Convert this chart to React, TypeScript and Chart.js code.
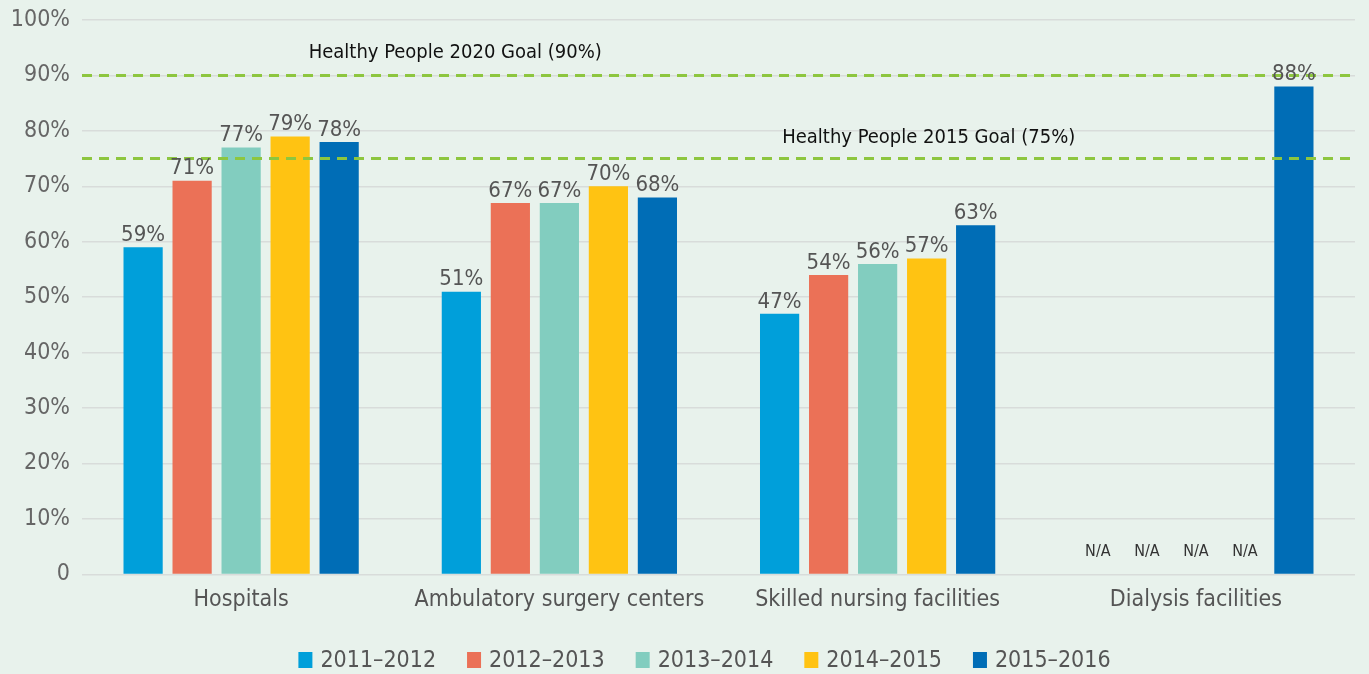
import React, { useEffect, useRef } from "react";
import { Chart, registerables } from "chart.js";

Chart.register(...registerables);

const categories = ["Hospitals", "Ambulatory surgery centers", "Skilled nursing facilities", "Dialysis facilities"];
const seriesNames = ["2011\u20132012", "2012\u20132013", "2013\u20132014", "2014\u20132015", "2015\u20132016"];
const s2011 = [59, 51, 47, null];
const s2012 = [71, 67, 54, null];
const s2013 = [77, 67, 56, null];
const s2014 = [79, 70, 57, null];
const s2015 = [78, 68, 63, 88];
const seriesColors = ["#009FDA", "#EB7157", "#82CDBF", "#FFC312", "#006DB6"];
const goalValues = [90, 75];
const goalLabels = ["Healthy People 2020 Goal (90%)", "Healthy People 2015 Goal (75%)"];
const yTicks = [0, 10, 20, 30, 40, 50, 60, 70, 80, 90, 100];

const FONT = "'DejaVu Sans Condensed', 'Liberation Sans Narrow', sans-serif";
const BG = "#E8F2EC";

const bgPlugin = {
  id: "bg",
  beforeDraw(chart: any) {
    const { ctx, width, height } = chart;
    ctx.save();
    ctx.fillStyle = BG;
    ctx.fillRect(0, 0, width, height);
    ctx.restore();
  },
};

const goalPlugin = {
  id: "goals",
  afterDatasetsDraw(chart: any) {
    const { ctx, chartArea, scales } = chart;
    const y = scales.y;
    const xs = scales.x;
    ctx.save();
    goalValues.forEach((g) => {
      const py = y.getPixelForValue(g);
      ctx.strokeStyle = "#8DC63F";
      ctx.lineWidth = 3;
      ctx.setLineDash([10, 7]);
      ctx.beginPath();
      ctx.moveTo(chartArea.left, py);
      ctx.lineTo(chartArea.right, py);
      ctx.stroke();
    });
    ctx.setLineDash([]);
    ctx.fillStyle = "#111";
    ctx.font = `20px ${FONT}`;
    ctx.textAlign = "center";
    ctx.textBaseline = "middle";
    const p0 = xs.getPixelForValue(0);
    const p1 = xs.getPixelForValue(1);
    const p2 = xs.getPixelForValue(2);
    const p3 = xs.getPixelForValue(3);
    ctx.fillText(goalLabels[0], (p0 + p1) / 2 + 55, y.getPixelForValue(goalValues[0] + 4));
    ctx.fillText(goalLabels[1], (p2 + p3) / 2 - 108, y.getPixelForValue(goalValues[1] + 3.7));
    ctx.restore();
  },
};

const labelPlugin = {
  id: "vals",
  afterDatasetsDraw(chart: any) {
    const { ctx } = chart;
    ctx.save();
    ctx.textAlign = "center";
    chart.data.datasets.forEach((ds: any, di: number) => {
      const meta = chart.getDatasetMeta(di);
      meta.data.forEach((bar: any, i: number) => {
        const v = ds.data[i];
        if (v === null || v === undefined) {
          ctx.fillStyle = "#333";
          ctx.font = `16px ${FONT}`;
          ctx.textBaseline = "middle";
          ctx.fillText("N/A", bar.x, chart.scales.y.getPixelForValue(4));
        } else {
          ctx.fillStyle = "#555";
          ctx.font = `22px ${FONT}`;
          ctx.textBaseline = "bottom";
          ctx.fillText(v + "%", bar.x, bar.y - 1);
        }
      });
    });
    ctx.restore();
  },
};

const legendPlugin = {
  id: "customLegend",
  afterDraw(chart: any) {
    const { ctx, width } = chart;
    ctx.save();
    ctx.font = `23px ${FONT}`;
    const boxW = 14;
    const gapBox = 8;
    const gapItem = 31;
    const items = chart.data.datasets.map((ds: any) => ({
      label: ds.label,
      color: ds.backgroundColor,
      w: boxW + gapBox + ctx.measureText(ds.label).width,
    }));
    const total = items.reduce((a: number, it: any) => a + it.w, 0) + gapItem * (items.length - 1);
    let x = (width - total) / 2 + 20;
    const cy = 660;
    items.forEach((it: any) => {
      ctx.fillStyle = it.color;
      ctx.fillRect(x, cy - 8, boxW, 16);
      ctx.fillStyle = "#555";
      ctx.textAlign = "left";
      ctx.textBaseline = "middle";
      ctx.fillText(it.label, x + boxW + gapBox, cy + 1);
      x += it.w + gapItem;
    });
    ctx.restore();
  },
};

export default function App() {
  const ref = useRef<HTMLCanvasElement>(null);
  useEffect(() => {
    document.body.style.margin = "0";
    document.body.style.background = BG;
    const all = [s2011, s2012, s2013, s2014, s2015];
    const chart = new Chart(ref.current!, {
      type: "bar",
      data: {
        labels: categories,
        datasets: all.map((d, i) => ({
          label: seriesNames[i],
          data: d,
          backgroundColor: seriesColors[i],
          borderWidth: 0,
          barPercentage: 0.8,
          categoryPercentage: 0.77,
        })),
      },
      options: {
        animation: false,
        responsive: false,
        maintainAspectRatio: false,
        layout: { padding: { top: 20, right: 14, left: 0, bottom: 56 } },
        plugins: {
          tooltip: { enabled: false },
          legend: { display: false },
        },
        scales: {
          x: {
            grid: { display: false },
            border: { display: false },
            ticks: { font: { family: FONT, size: 23 }, color: "#555", padding: 4 },
          },
          y: {
            min: 0,
            max: 100,
            afterBuildTicks(axis: any) {
              axis.ticks = yTicks.map((v) => ({ value: v }));
            },
            afterFit(axis: any) {
              axis.width = 82;
              axis.paddingTop = 0;
              axis.paddingBottom = 0;
            },
            grid: { color: "#D8DCDA", lineWidth: 1.5, drawTicks: false },
            border: { display: false },
            ticks: {
              font: { family: FONT, size: 23 },
              color: "#666",
              padding: 12,
              callback: (v: any) => (v === 0 ? "0" : v + "%"),
            },
          },
        },
      },
      plugins: [bgPlugin, goalPlugin, labelPlugin, legendPlugin],
    } as any);
    return () => chart.destroy();
  }, []);
  return (
    <div style={{ width: 1369, height: 674, background: BG }}>
      <canvas ref={ref} width={1369} height={674} style={{ display: "block" }} />
    </div>
  );
}
